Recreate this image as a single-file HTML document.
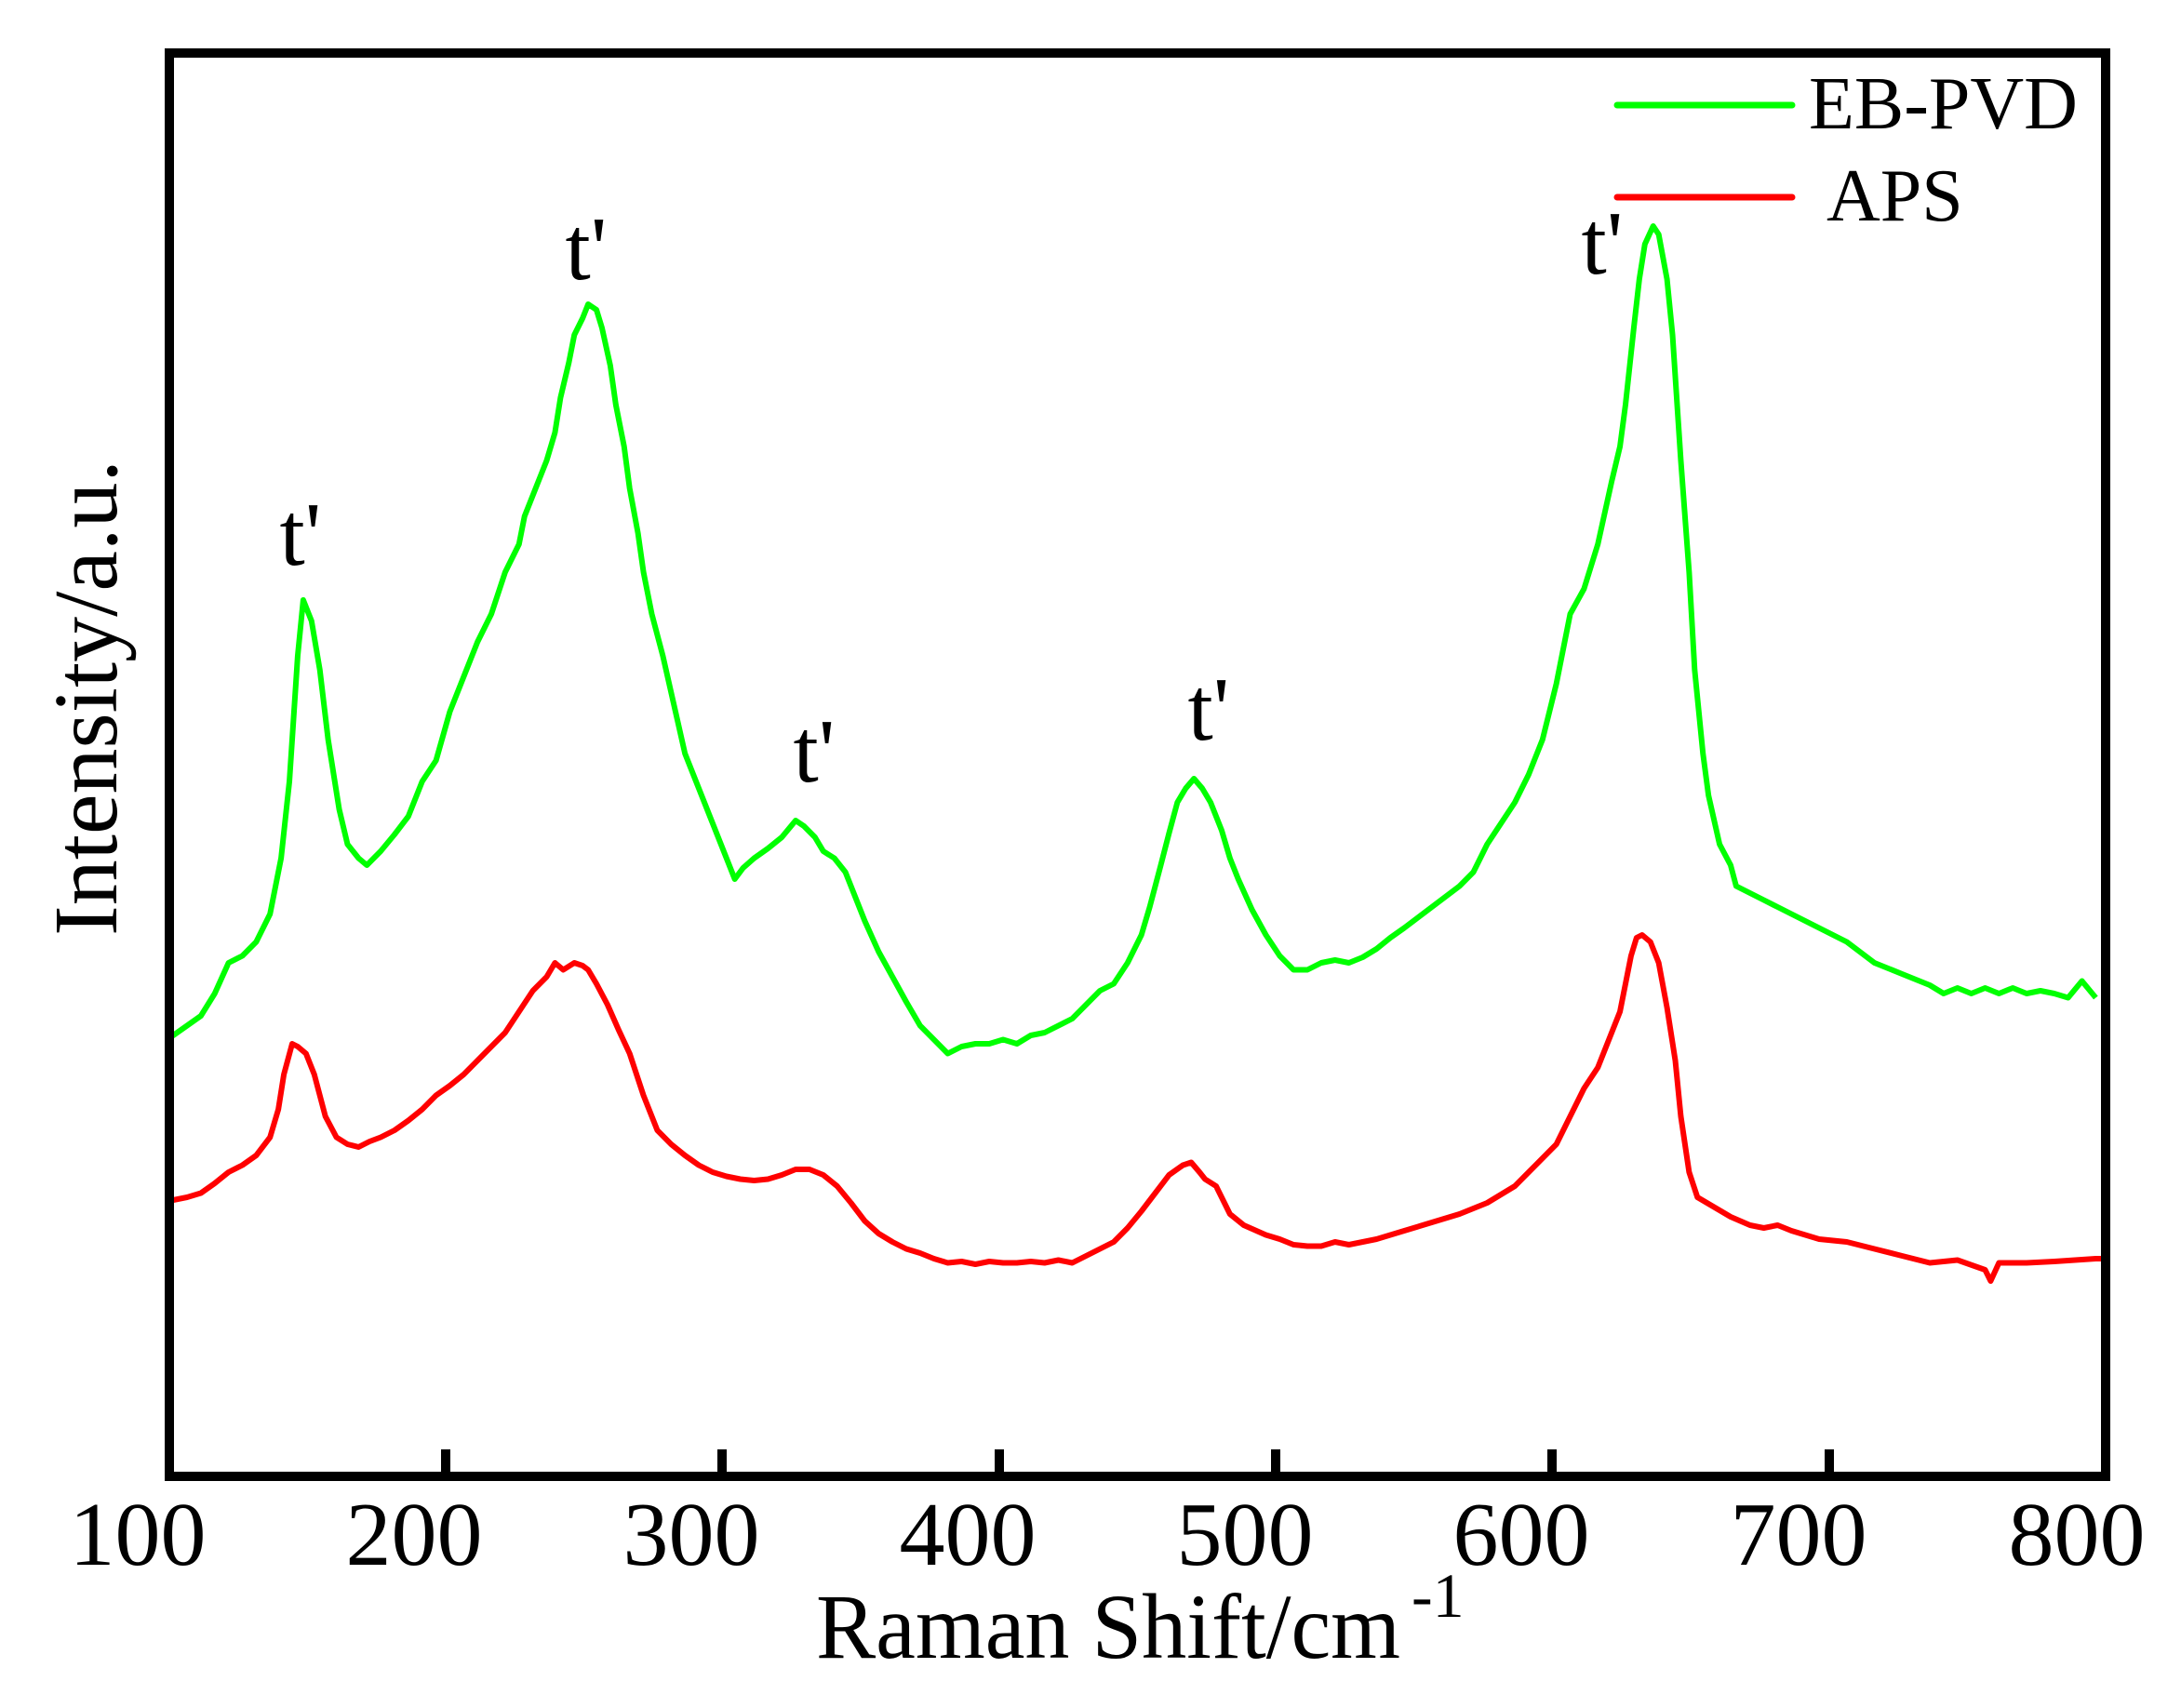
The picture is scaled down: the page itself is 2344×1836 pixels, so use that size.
<!DOCTYPE html>
<html><head><meta charset="utf-8"><style>
html,body{margin:0;padding:0;background:#fff;}
svg{display:block;}
text{font-family:"Liberation Serif",serif;fill:#000;}
</style></head><body>
<svg width="2344" height="1836" viewBox="0 0 2344 1836" xmlns="http://www.w3.org/2000/svg">
<defs><clipPath id="c"><rect x="184" y="60" width="2077" height="1525"/></clipPath></defs>
<g clip-path="url(#c)">
<g transform="matrix(2.973 0 0 1.5 -126 0)" fill="none" stroke-linejoin="round">
<polyline vector-effect="non-scaling-stroke" stroke="#00ff00" stroke-width="6" points="100,745 105,742 110,735 115,728 120,712 125,690 130,685 135,675 140,655 144,615 147,560 150,470 152,430 155,445 158,480 161,530 165,580 168,605 172,615 175,620 180,610 185,598 190,585 195,560 200,545 205,510 210,485 215,460 220,440 225,410 230,390 232,370 236,350 240,330 243,310 245,285 248,260 250,240 253,228 255,218 258,222 260,235 263,262 265,290 268,320 270,350 273,382 275,410 278,440 282,470 286,505 290,540 295,565 300,590 305,615 308,630 311,622 315,615 320,608 325,600 330,588 333,592 337,600 340,610 344,615 348,625 352,645 355,660 360,682 365,700 370,718 375,735 380,745 385,755 390,750 395,748 400,748 405,745 410,748 415,742 420,740 430,730 440,710 445,705 450,690 455,670 458,650 462,620 465,597 468,575 471,565 474,558 477,565 480,575 484,595 487,615 490,630 495,652 500,670 505,685 510,695 515,695 520,690 525,688 530,690 535,686 540,680 545,672 550,665 560,650 570,635 575,625 580,605 585,590 590,575 595,555 600,530 605,490 610,440 615,422 620,390 625,345 628,320 630,290 633,235 635,200 637,175 640,162 642,168 645,200 647,240 650,330 653,410 655,480 658,540 660,570 664,605 668,620 670,635 675,640 680,645 685,650 690,655 695,660 700,665 710,675 720,690 730,698 740,706 745,712 750,708 755,712 760,708 765,712 770,708 775,712 780,710 785,712 790,715 795,703 800,715"/>
<polyline vector-effect="non-scaling-stroke" stroke="#ff0000" stroke-width="6" points="100,865 105,860 110,858 115,855 120,848 125,840 130,835 135,828 140,815 143,795 145,770 148,748 150,750 153,755 156,770 160,800 164,815 168,820 172,822 176,818 180,815 185,810 190,803 195,795 200,785 205,778 210,770 215,760 220,750 225,740 230,725 235,710 240,700 243,690 246,695 250,690 253,692 255,695 258,705 262,720 266,738 270,755 275,785 280,810 285,820 290,828 295,835 300,840 305,843 310,845 315,846 320,845 325,842 330,838 335,838 340,842 345,850 350,862 355,875 360,884 365,890 370,895 375,898 380,902 385,905 390,904 395,906 400,904 405,905 410,905 415,904 420,905 425,903 430,905 435,900 440,895 445,890 450,880 455,868 460,855 465,842 470,835 473,833 476,840 478,845 482,850 487,870 492,878 500,885 505,888 510,892 515,893 520,893 525,890 530,892 535,890 540,888 545,885 550,882 560,876 570,870 580,862 590,850 595,840 600,830 605,820 610,800 615,780 620,765 625,740 628,725 632,685 634,672 636,670 639,675 642,690 645,722 648,760 650,800 653,840 656,858 662,865 668,872 675,878 680,880 685,878 690,882 700,888 710,890 720,895 730,900 740,905 750,903 760,910 762,918 765,905 775,905 785,904 800,902 810,902"/>
</g>
</g>
<rect x="182" y="57" width="2081" height="1530" fill="none" stroke="#000" stroke-width="10"/>
<g stroke="#000" stroke-width="10">
<line x1="479" y1="1587" x2="479" y2="1558"/>
<line x1="776" y1="1587" x2="776" y2="1558"/>
<line x1="1074" y1="1587" x2="1074" y2="1558"/>
<line x1="1371" y1="1587" x2="1371" y2="1558"/>
<line x1="1668" y1="1587" x2="1668" y2="1558"/>
<line x1="1966" y1="1587" x2="1966" y2="1558"/>
</g>
<g font-size="98" text-anchor="middle">
<text x="148" y="1682">100</text>
<text x="445" y="1682">200</text>
<text x="743" y="1682">300</text>
<text x="1040" y="1682">400</text>
<text x="1338" y="1682">500</text>
<text x="1635" y="1682">600</text>
<text x="1933" y="1682">700</text>
<text x="2232" y="1682">800</text>
</g>
<text x="877" y="1782" font-size="100" textLength="628" lengthAdjust="spacingAndGlyphs">Raman Shift/cm</text>
<text x="1517" y="1738" font-size="68">-1</text>
<text transform="translate(125,750) rotate(-90)" font-size="98" text-anchor="middle">Intensity/a.u.</text>
<g font-size="98" text-anchor="middle">
<text x="323" y="607">t'</text>
<text x="630" y="300">t'</text>
<text x="875" y="840">t'</text>
<text x="1299" y="795">t'</text>
<text x="1722" y="294">t'</text>
</g>
<line x1="1738" y1="113" x2="1926" y2="113" stroke="#00ff00" stroke-width="7" stroke-linecap="round"/>
<line x1="1738" y1="212" x2="1926" y2="212" stroke="#ff0000" stroke-width="7" stroke-linecap="round"/>
<text x="1944" y="138" font-size="80">EB-PVD</text>
<text x="1963" y="237" font-size="80">APS</text>
</svg>
</body></html>
